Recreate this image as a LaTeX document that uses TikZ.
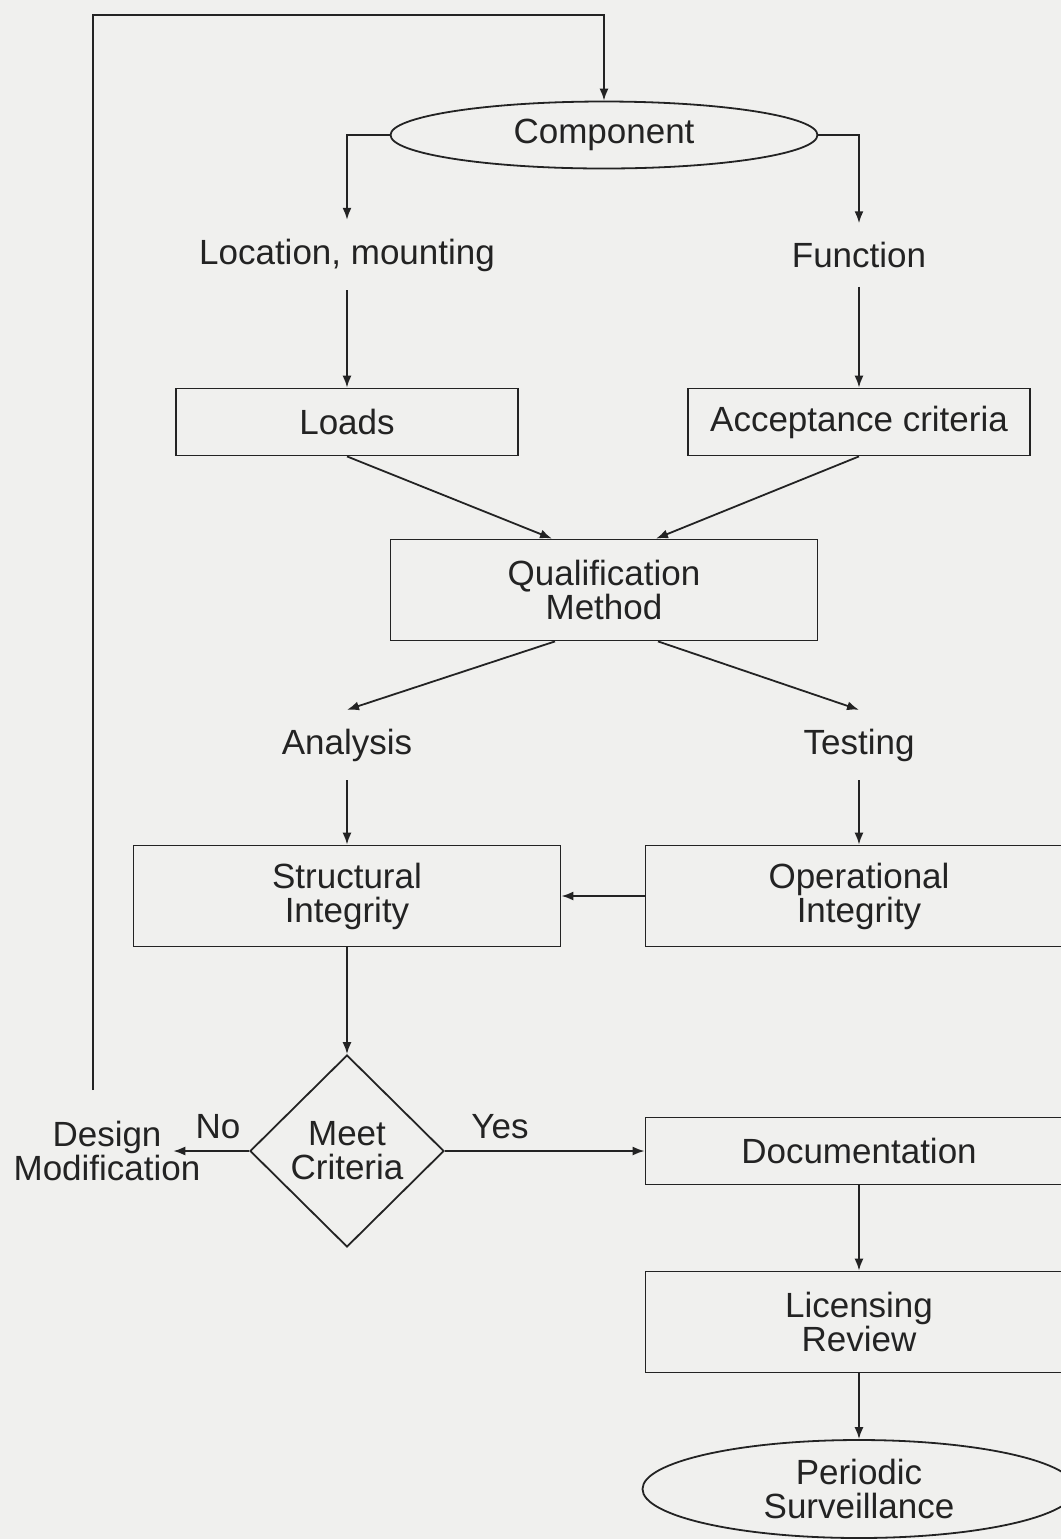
\documentclass[tikz,border=0pt]{standalone}
\usepackage{fontspec}
\setmainfont{Liberation Sans}
\usetikzlibrary{positioning,arrows.meta,shapes.geometric}
\definecolor{paper}{RGB}{240,240,238}
\definecolor{ink}{RGB}{35,35,35}
\tikzset{
base/.style={
  font=\fontsize{17.5}{17}\selectfont,
  text=ink,
  align=center,
  inner sep=0pt
  },
lbl/.style={
  base,
  inner ysep=9pt
  },
rbox/.style={
  base,
  draw=ink,
  minimum width=#1,
  minimum height=33.5pt
  },
oval/.style={
  base,
  draw=ink,
  ellipse,
  minimum width=#1
  },
flow/.style={
  draw=ink,
  -{Latex[length=6pt,width=4.5pt]}
  }
}

\begin{document}
\begin{tikzpicture}[x=0.5pt,y=-0.5pt,line width=0.9pt]

\fill[paper] (0,0) rectangle (1061,1539);
\useasboundingbox (0,0) rectangle (1061,1539);

\node[oval=213.5pt,minimum height=33.5pt] (comp) at (604,135) {Component};

\node[lbl] (loc) at (347,255) {Location, mounting};
\node[lbl] (fun) at (859,255) {Function};

\node[rbox=171pt] (loads) at (347,422) {Loads};
\node[rbox=171pt] (acc) at (859,422) {Acceptance criteria};

\node[rbox=213.5pt,minimum height=50.5pt] (qual) at (604,590) {Qualification\\Method};

\node[lbl] (ana) at (347,745) {Analysis};
\node[lbl] (test) at (859,745) {Testing};

\node[rbox=213.5pt,minimum height=50.5pt] (struc) at (347,896) {Structural\\Integrity};
\node[rbox=213.5pt,minimum height=50.5pt] (oper) at (859,896) {Operational\\Integrity};

\node[base,draw=ink,diamond,minimum width=97pt,minimum height=96pt] (dec) at (347,1151) {Meet\\Criteria};
\node[base] (dm) at (107,1151) {Design\\Modification};
\node[base] (no) at (218,1127) {No};
\node[base] (yes) at (500,1127) {Yes};

\node[rbox=213.5pt] (doc) at (859,1151) {Documentation};
\node[rbox=213.5pt,minimum height=50.5pt] (lic) at (859,1322) {Licensing\\Review};
\node[oval=216.5pt,minimum height=49pt] (per) at (859,1489) {Periodic\\Surveillance};

\coordinate (dmtop) at (93,1090);
\coordinate (looptop) at (93,15);

% component branches
\draw[flow] (comp.west) -| (loc.north);
\draw[flow] (comp.east) -| (fun.north);
\draw[flow] (loc.south) -- (loads.north);
\draw[flow] (fun.south) -- (acc.north);

% into and out of the method box
\draw[flow] (loads.south) -- ([xshift=-26pt]qual.north);
\draw[flow] (acc.south) -- ([xshift=26pt]qual.north);
\draw[flow] ([xshift=-24.5pt]qual.south) -- (ana.north);
\draw[flow] ([xshift=27pt]qual.south) -- (test.north);
\draw[flow] (ana.south) -- (struc.north);
\draw[flow] (test.south) -- (oper.north);
\draw[flow] (oper.west) -- (struc.east);
\draw[flow] (struc.south) -- (dec.north);

% decision
\draw[flow,shorten >=-14pt] (dec.west) -- (dm.east);
\draw[flow] (dec.east) -- (doc.west);
\draw[flow] (dmtop) -- (looptop) -| (comp.north);

\draw[flow] (doc.south) -- (lic.north);
\draw[flow] (lic.south) -- (per.north);

\end{tikzpicture}
\end{document}
